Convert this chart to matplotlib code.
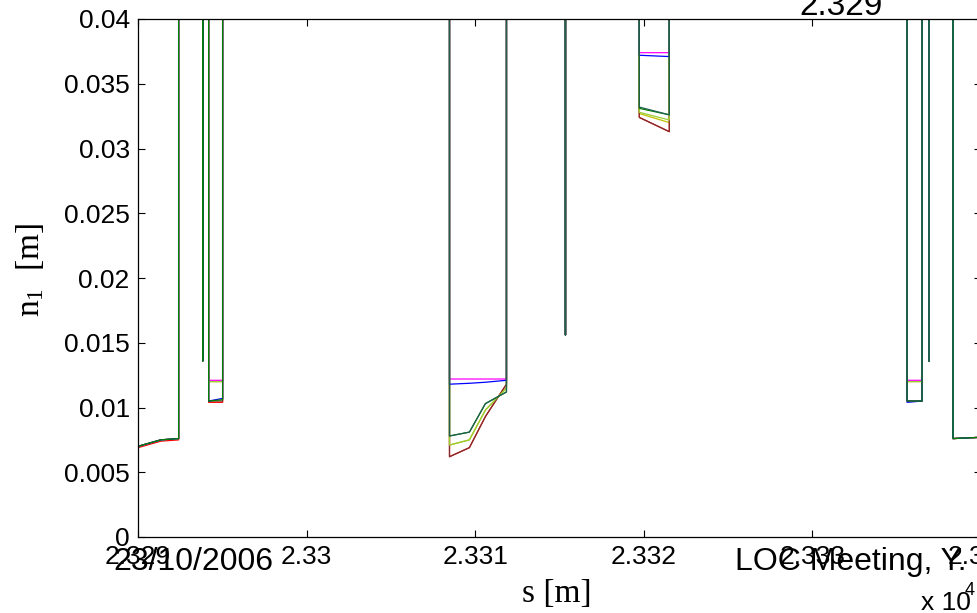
import numpy as np
import matplotlib
matplotlib.use('Agg')
import matplotlib.pyplot as plt

plt.rcParams['font.family'] = ['Liberation Sans', 'DejaVu Sans']
plt.rcParams['mathtext.fontset'] = 'custom'
plt.rcParams['mathtext.rm'] = 'Liberation Serif'
plt.rcParams['mathtext.it'] = 'Liberation Serif:italic'

HI = 1.0      # aperture far outside the plotted range
NA = np.nan   # element not present for this series

# s positions [m] (repeated points give the vertical jumps)
s = [23290.00, 23291.35, 23292.41, 23292.41,
     23293.84, 23293.84, 23293.84,
     23294.19, 23294.19, 23295.02, 23295.02,
     23308.48, 23308.48, 23309.66, 23310.61, 23311.86, 23311.86,
     23315.36, 23315.36, 23315.36,
     23319.74, 23319.74, 23321.52, 23321.52,
     23335.63, 23335.63, 23336.52, 23336.52,
     23336.93, 23336.93, 23336.93,
     23338.35, 23338.35, 23340.00]

n1_red = [0.0069, 0.0074, 0.0075, HI, HI, 0.0136, HI, HI, 0.0104, 0.0104, HI,
          HI, 0.0062, 0.0069, 0.0093, 0.0118, HI, HI, 0.0156, HI,
          HI, 0.0324, 0.0313, HI, HI, 0.0105, 0.0105, HI, HI, 0.0136, HI,
          HI, 0.0076, 0.0077]
n1_yellow = [0.0070, 0.0075, 0.0076, HI, HI, 0.0136, HI, HI, 0.0120, 0.0120, HI,
             HI, 0.0071, 0.0075, 0.0098, 0.0115, HI, HI, 0.0156, HI,
             HI, 0.0327, 0.0320, HI, HI, 0.0120, 0.0120, HI, HI, 0.0136, HI,
             HI, 0.0076, 0.0077]
n1_magenta = [0.0070, 0.0075, 0.0076, HI, HI, 0.0136, HI, HI, 0.0121, 0.0121, HI,
              HI, 0.0122, 0.0122, 0.0122, 0.0122, HI, HI, 0.0156, HI,
              HI, 0.0374, 0.0374, HI, HI, 0.0121, 0.0121, HI, HI, 0.0136, HI,
              HI, 0.0076, 0.0077]
n1_brown = [0.0070, 0.0075, 0.0076, HI, HI, 0.0136, HI, HI, 0.0105, 0.0105, HI,
            HI, 0.0062, 0.0069, 0.0093, 0.0118, HI, HI, 0.0156, HI,
            HI, 0.0324, 0.0313, HI, HI, 0.0105, 0.0105, HI, HI, 0.0136, HI,
            HI, 0.0076, 0.0077]
n1_ygreen = [0.0070, 0.0075, 0.0076, HI, HI, 0.0136, HI, HI, 0.0120, 0.0120, HI,
             HI, 0.0071, 0.0075, 0.0098, 0.0115, HI, HI, 0.0156, HI,
             HI, 0.0328, 0.0322, HI, HI, 0.0120, 0.0120, HI, HI, 0.0136, HI,
             HI, 0.0076, 0.0077]
n1_blue = [0.0070, 0.0075, 0.0076, HI, HI, 0.0136, HI, HI, 0.0105, 0.0107, HI,
           HI, 0.0118, 0.01187, 0.01195, 0.0121, HI, HI, 0.0156, HI,
           HI, 0.0372, 0.0371, HI, HI, 0.0104, 0.0105, HI, HI, 0.0136, HI,
           HI, 0.0076, 0.0077]
n1_green = [0.0070, 0.0075, 0.0076, HI, HI, 0.0136, HI, HI, 0.0105, 0.0106, HI,
            HI, 0.0078, 0.0081, 0.0103, 0.0112, HI, HI, 0.0156, HI,
            HI, 0.0331, 0.0326, HI, HI, 0.0105, 0.0105, HI, HI, 0.0136, HI,
            HI, 0.0076, 0.0077]
n1_teal = [NA, NA, NA, NA, NA, NA, NA, NA, NA, NA, NA,
           HI, 0.0078, 0.0081, 0.0103, 0.0112, HI, HI, 0.0156, HI,
           HI, 0.0332, 0.0326, HI, HI, 0.0105, 0.0105, HI, HI, 0.0136, HI,
           NA, NA, NA]

x_ticks = [23290, 23300, 23310, 23320, 23330, 23340]
x_labels = ['2.329', '2.33', '2.331', '2.332', '2.333', '2.334']
y_ticks = [0, 0.005, 0.01, 0.015, 0.02, 0.025, 0.03, 0.035, 0.04]
y_labels = ['0', '0.005', '0.01', '0.015', '0.02', '0.025', '0.03', '0.035', '0.04']

W, H = 978, 613
fig = plt.figure(figsize=(W / 100, H / 100), dpi=100)
ax = fig.add_axes([138 / W, 1 - 537 / H, (980.8 - 138) / W, (537 - 19) / H])

series = [(n1_red, '#ff0000'), (n1_yellow, '#bfbf00'), (n1_magenta, '#ff00ff'),
          (n1_brown, '#7f2f2f'), (n1_ygreen, '#9acd32'), (n1_blue, '#0000ff'),
          (n1_green, '#008000'), (n1_teal, '#1f5f4f')]
for vals, c in series:
    ax.plot(s, vals, color=c, lw=0.9)

ax.set_xlim(23290, 23340)
ax.set_ylim(0, 0.04)
ax.set_xticks(x_ticks)
ax.set_xticklabels(x_labels)
ax.set_yticks(y_ticks)
ax.set_yticklabels(y_labels)
ax.tick_params(direction='in', length=5, width=0.8, top=True, right=True,
               labelsize=19, pad=6)
for sp in ax.spines.values():
    sp.set_linewidth(0.9)

fig.text(30 / W, 1 - 270 / H, r'n$_1$  [m]', rotation=90, ha='center', va='center',
         fontsize=24, family='Liberation Serif')
fig.text(557 / W, 1 - 594 / H, 's [m]', ha='center', va='center',
         fontsize=24, family='Liberation Serif')

# footer / header texts of the original slide
fig.text(113 / W, 1 - 570 / H, '23/10/2006', ha='left', va='baseline', fontsize=23)
fig.text(735 / W, 1 - 570 / H, 'LOC Meeting, Y. Papaphilippou', ha='left',
         va='baseline', fontsize=23)
fig.text(841 / W, 1 - 15 / H, '2.329', ha='center', va='baseline', fontsize=24)
fig.text(921 / W, 1 - 610 / H, 'x 10', ha='left', va='baseline', fontsize=19)
fig.text(965 / W, 1 - 595 / H, '4', ha='left', va='baseline', fontsize=13)

fig.savefig('out.png', dpi=100)
